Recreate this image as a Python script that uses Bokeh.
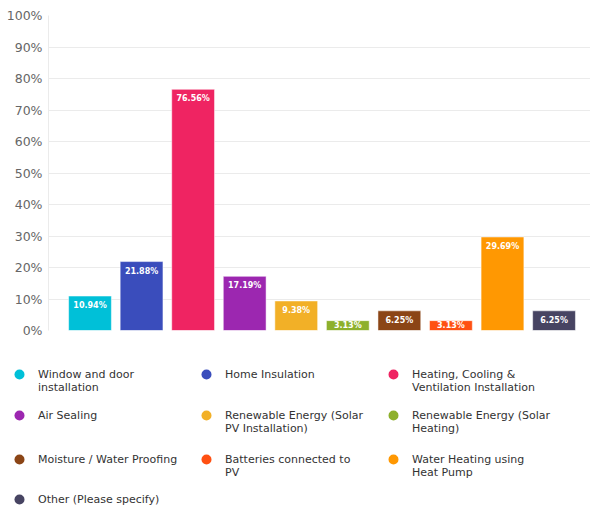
import numpy as np
from bokeh.plotting import figure
from bokeh.models import ColumnDataSource, Range1d, FixedTicker, CustomJSTickFormatter
from bokeh.layouts import column
from bokeh.core.properties import value
from bokeh.embed import file_html
from bokeh.resources import INLINE

categories = [
    "Window and door\ninstallation",
    "Home Insulation",
    "Heating, Cooling &\nVentilation Installation",
    "Air Sealing",
    "Renewable Energy (Solar\nPV Installation)",
    "Renewable Energy (Solar\nHeating)",
    "Moisture / Water Proofing",
    "Batteries connected to\nPV",
    "Water Heating using\nHeat Pump",
    "Other (Please specify)",
]
values = [10.94, 21.88, 76.56, 17.19, 9.38, 3.13, 6.25, 3.13, 29.69, 6.25]
colors = ["#00C0D8", "#3A4DBC", "#EF2462", "#9C27B0", "#F2B027",
          "#8DB02C", "#8B4516", "#FF5012", "#FF9802", "#474462"]
y_ticks = [0, 10, 20, 30, 40, 50, 60, 70, 80, 90, 100]

FONT = "DejaVu Sans"

v = np.array(values)
idx = np.arange(len(values))
src = ColumnDataSource(dict(
    x=idx, top=v, color=colors,
    label=[f"{x:.2f}%" for x in values],
    ly=np.maximum(v - 3.0, v / 2.0),
))

p = figure(width=590, height=345, output_backend="svg", toolbar_location=None,
           x_range=Range1d(-0.805, 9.707), y_range=Range1d(0, 100),
           min_border_left=48, min_border_right=0, min_border_top=15, min_border_bottom=15)
p.frame_align = False
p.vbar(x="x", top="top", width=0.83, fill_color="color", line_color="white",
       line_alpha=0.5, line_width=1, source=src)
p.text(x="x", y="ly", text="label", source=src, text_color="white",
       text_font=value(FONT), text_font_size="8px", text_font_style="bold",
       text_align="center", text_baseline="middle")

p.xaxis.visible = False
p.xgrid.grid_line_color = None
p.ygrid.grid_line_color = "#ebebeb"
p.yaxis.ticker = FixedTicker(ticks=y_ticks)
p.yaxis.formatter = CustomJSTickFormatter(code="return tick + '%';")
p.yaxis.major_label_text_font = FONT
p.yaxis.major_label_text_font_size = "12.5px"
p.yaxis.major_label_text_color = "#666666"
p.yaxis.axis_line_color = "#ebebeb"
p.yaxis.major_tick_line_color = None
p.yaxis.major_tick_out = 0
p.yaxis.major_tick_in = 0
p.yaxis.minor_tick_line_color = None
p.yaxis.major_label_standoff = 6
p.outline_line_color = None

# Legend as a separate panel
ncols = 3
col_x = [19, 206, 393]
row_y = [29, 70, 114, 154]
lx, ly, tx, ty = [], [], [], []
for i in range(len(categories)):
    r, c = divmod(i, ncols)
    lx.append(col_x[c]); ly.append(row_y[r])
    tx.append(col_x[c] + 18.5); ty.append(row_y[r] - 7)
lsrc = ColumnDataSource(dict(cx=lx, cy=ly, tx=tx, ty=ty, color=colors, label=categories))

lg = figure(width=590, height=162, output_backend="svg", toolbar_location=None,
            x_range=Range1d(0, 590), y_range=Range1d(162, 0),
            min_border_left=0, min_border_right=0, min_border_top=0, min_border_bottom=0)
lg.frame_align = False
lg.scatter(x="cx", y="cy", size=10, fill_color="color", line_color=None, source=lsrc)
lg.text(x="tx", y="ty", text="label", source=lsrc, text_color="#333333",
        text_font=value(FONT), text_font_size="11px", text_baseline="top",
        text_align="left", text_line_height=1.05)
lg.axis.visible = False
lg.grid.grid_line_color = None
lg.outline_line_color = None

layout = column(p, lg, spacing=0)
open("out.html", "w").write(file_html(layout, INLINE))
